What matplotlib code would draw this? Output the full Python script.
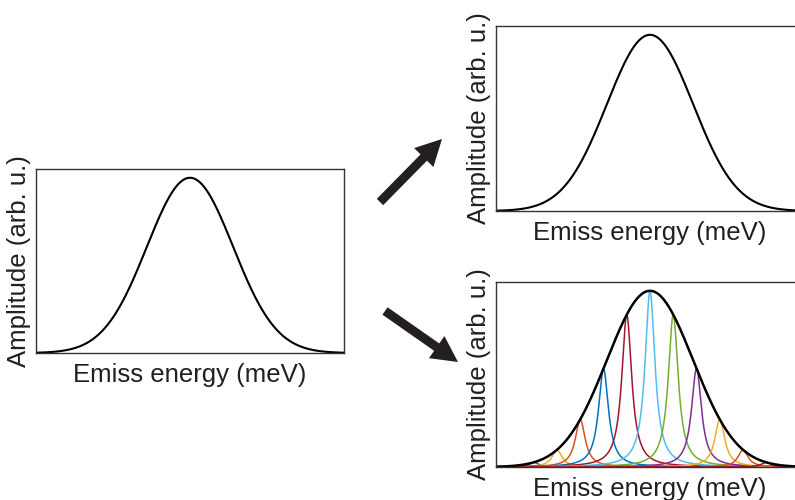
import numpy as np
import matplotlib.pyplot as plt
from matplotlib.patches import FancyArrow

plt.rcParams["font.family"] = ["Liberation Sans", "DejaVu Sans"]

INK = "#231f20"

# envelope: one broad Gaussian band, centred in each panel
env_center = 0.0
env_sigma = 0.28

# narrow emitters hidden under the band (positions in panel units, left to right)
peak_pos = [-0.755, -0.604, -0.453, -0.302, -0.151, 0.0, 0.151, 0.302, 0.453, 0.604, 0.755]
peak_colors = ["#0072BD", "#EDB120", "#D95319", "#0072BD", "#A2142F", "#4DBEEE",
               "#77AC30", "#7E2F8E", "#EDB120", "#D95319", "#A2142F"]
peak_fwhm = 0.078

x = np.linspace(-1, 1, 1500)


def envelope(xx):
    return np.exp(-(xx - env_center) ** 2 / (2 * env_sigma ** 2))


def setup(ax):
    for s in ax.spines.values():
        s.set_linewidth(1.0)
        s.set_color("#333333")
    ax.set_xticks([])
    ax.set_yticks([])
    ax.set_xlim(-1, 1)
    ax.set_ylim(0, 1.05)
    ax.set_xlabel("Emiss energy (meV)", fontsize=18.5, color=INK, labelpad=7.5)
    ax.set_ylabel("Amplitude (arb. u.)", fontsize=18.5, color=INK, labelpad=3.5)


fig = plt.figure(figsize=(7.95, 5.0), dpi=100)

# left: measured band
ax_l = fig.add_axes([36 / 795, 1 - 353 / 500, 308 / 795, 184 / 500])
ax_l.plot(x, envelope(x), color="black", lw=1.5)
setup(ax_l)

# top right: homogeneous picture
ax_t = fig.add_axes([496 / 795, 1 - 211 / 500, 308 / 795, 185 / 500])
ax_t.plot(x, envelope(x), color="black", lw=1.5)
setup(ax_t)

# bottom right: inhomogeneous picture, sum of narrow lines
ax_b = fig.add_axes([496 / 795, 1 - 467 / 500, 308 / 795, 185 / 500])
g = peak_fwhm / 2
for p, c in zip(peak_pos, peak_colors):
    amp = envelope(np.array(p))
    ax_b.plot(x, amp * g ** 2 / ((x - p) ** 2 + g ** 2), color=c, lw=1.1)
ax_b.plot(x, envelope(x), color="black", lw=1.8)
setup(ax_b)

# arrows, drawn on a pixel-coordinate overlay
ov = fig.add_axes([0, 0, 1, 1])
ov.set_xlim(0, 795)
ov.set_ylim(500, 0)
ov.axis("off")
ov.patch.set_alpha(0)
for (x0, y0, x1, y1) in [(380, 202, 442, 139), (385, 311, 458, 362)]:
    ov.add_patch(FancyArrow(x0, y0, x1 - x0, y1 - y0, width=9, head_width=27,
                            head_length=26, length_includes_head=True,
                            color=INK, lw=0))

fig.savefig("out.png", dpi=100)
